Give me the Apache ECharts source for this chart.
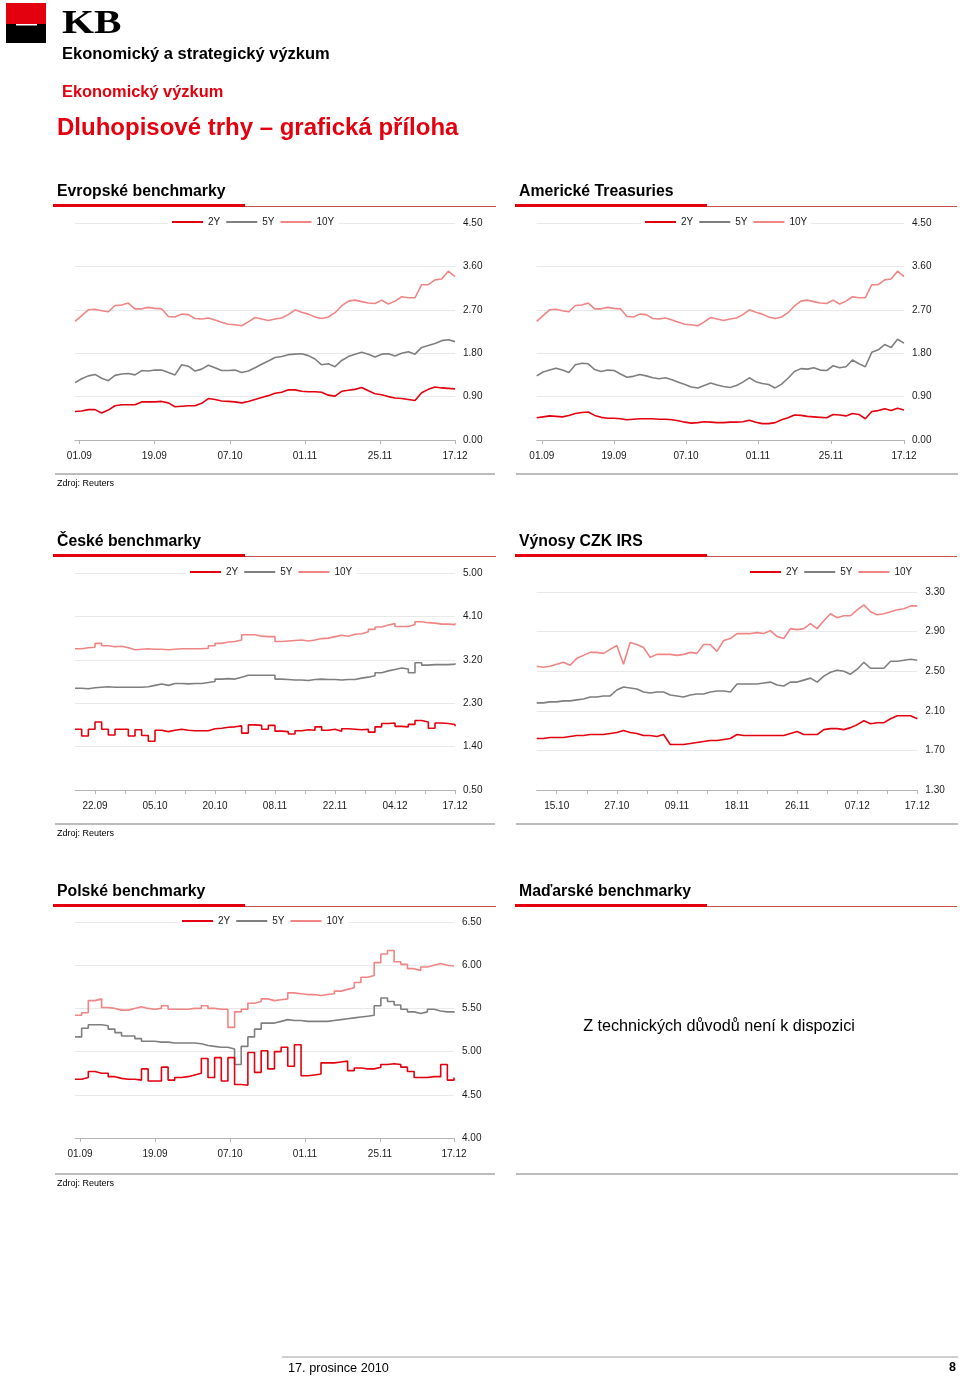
<!DOCTYPE html>
<html><head><meta charset="utf-8">
<script src="https://cdn.jsdelivr.net/npm/echarts@6/dist/echarts.min.js"></script>
<style>html,body{margin:0;padding:0;background:#fff}#c{width:960px;height:1378px}</style>
</head><body><div id="c"></div>
<script>
// ---------- DATA ----------
const seriesNames = ['2Y', '5Y', '10Y'];

// Evropské benchmarky
const eurTickLabels = ['01.09', '19.09', '07.10', '01.11', '25.11', '17.12'];
const eurTickAt = [0.65, 11.9, 23.25, 34.5, 45.75, 57];
const eurYTicks = [0.00, 0.90, 1.80, 2.70, 3.60, 4.50];
const eur2Y = [0.59,0.60,0.63,0.63,0.56,0.62,0.71,0.73,0.73,0.73,0.79,0.79,0.79,0.80,0.77,0.69,0.70,0.71,0.71,0.76,0.86,0.84,0.81,0.80,0.79,0.77,0.80,0.84,0.88,0.92,0.97,0.99,1.04,1.04,1.01,1.00,1.00,0.99,0.93,0.91,1.01,1.03,1.05,1.09,1.02,0.96,0.94,0.90,0.87,0.86,0.84,0.82,0.98,1.05,1.10,1.08,1.07,1.06];
const eur5Y = [1.19,1.27,1.33,1.36,1.28,1.23,1.34,1.37,1.38,1.35,1.44,1.43,1.45,1.45,1.40,1.35,1.56,1.53,1.43,1.47,1.55,1.50,1.44,1.44,1.45,1.40,1.43,1.50,1.57,1.64,1.71,1.73,1.77,1.78,1.79,1.75,1.68,1.56,1.58,1.52,1.65,1.73,1.78,1.82,1.78,1.72,1.78,1.79,1.74,1.80,1.83,1.78,1.92,1.96,2.00,2.06,2.08,2.04];
const eur10Y = [2.46,2.58,2.70,2.71,2.68,2.66,2.79,2.80,2.84,2.72,2.72,2.75,2.73,2.72,2.56,2.55,2.61,2.60,2.52,2.51,2.53,2.49,2.44,2.40,2.39,2.37,2.45,2.54,2.51,2.48,2.51,2.53,2.60,2.70,2.65,2.61,2.55,2.52,2.55,2.64,2.78,2.88,2.90,2.87,2.84,2.83,2.90,2.82,2.88,2.97,2.95,2.95,3.22,3.22,3.32,3.34,3.50,3.39];

// Americké Treasuries
const usTickLabels = ['01.09', '19.09', '07.10', '01.11', '25.11', '17.12'];
const usTickAt = [0.8, 12.0, 23.17, 34.34, 45.67, 57];
const usYTicks = [0.00, 0.90, 1.80, 2.70, 3.60, 4.50];
const us2Y = [0.46,0.48,0.50,0.49,0.48,0.51,0.55,0.57,0.58,0.51,0.47,0.45,0.45,0.44,0.42,0.43,0.44,0.44,0.44,0.43,0.43,0.42,0.40,0.37,0.35,0.36,0.38,0.37,0.36,0.36,0.37,0.37,0.38,0.41,0.37,0.34,0.34,0.36,0.42,0.46,0.52,0.51,0.49,0.48,0.47,0.46,0.53,0.52,0.50,0.55,0.53,0.44,0.59,0.61,0.65,0.61,0.66,0.62];
const us5Y = [1.33,1.41,1.45,1.49,1.45,1.40,1.56,1.59,1.58,1.46,1.42,1.45,1.44,1.37,1.30,1.32,1.36,1.33,1.29,1.27,1.29,1.25,1.20,1.15,1.10,1.08,1.13,1.18,1.14,1.11,1.09,1.13,1.20,1.29,1.21,1.17,1.15,1.08,1.16,1.28,1.42,1.48,1.47,1.50,1.45,1.44,1.54,1.50,1.52,1.66,1.58,1.52,1.82,1.87,1.98,1.92,2.09,2.01];
const us10Y = [2.46,2.58,2.70,2.71,2.68,2.66,2.79,2.80,2.84,2.72,2.72,2.75,2.73,2.72,2.56,2.55,2.61,2.60,2.52,2.51,2.53,2.49,2.44,2.40,2.39,2.37,2.45,2.54,2.51,2.48,2.51,2.53,2.60,2.70,2.65,2.61,2.55,2.52,2.55,2.64,2.78,2.88,2.90,2.87,2.84,2.83,2.90,2.82,2.88,2.97,2.95,2.95,3.22,3.22,3.32,3.34,3.50,3.39];

// České benchmarky
const czTickLabels = ['22.09', '05.10', '20.10', '08.11', '22.11', '04.12', '17.12'];
const czLabelAt = [3, 12, 21, 30, 39, 48, 57];
const czTickAt = [3, 7.5, 12, 16.5, 21, 25.5, 30, 34.5, 39, 43.5, 48, 52.5, 57];
const czYTicks = [0.50, 1.40, 2.30, 3.20, 4.10, 5.00];
const cz2Y = [1.76,1.62,1.76,1.91,1.76,1.64,1.76,1.76,1.62,1.75,1.63,1.51,1.74,1.71,1.74,1.76,1.74,1.73,1.73,1.73,1.77,1.78,1.80,1.81,1.83,1.68,1.85,1.84,1.76,1.84,1.72,1.71,1.66,1.73,1.75,1.74,1.81,1.74,1.76,1.72,1.77,1.76,1.75,1.76,1.70,1.81,1.88,1.89,1.82,1.81,1.86,1.94,1.91,1.78,1.89,1.88,1.86,1.82];
const cz5Y = [2.61,2.60,2.62,2.63,2.64,2.63,2.63,2.63,2.63,2.63,2.64,2.67,2.70,2.67,2.71,2.71,2.70,2.71,2.71,2.73,2.75,2.80,2.81,2.80,2.84,2.88,2.88,2.88,2.88,2.88,2.80,2.79,2.78,2.78,2.77,2.79,2.80,2.79,2.79,2.78,2.79,2.79,2.82,2.84,2.87,2.93,2.97,3.00,3.03,3.01,2.93,3.14,3.09,3.10,3.10,3.10,3.11,3.13];
const cz10Y = [3.43,3.45,3.46,3.54,3.49,3.47,3.48,3.45,3.41,3.42,3.43,3.42,3.42,3.41,3.42,3.43,3.43,3.43,3.43,3.44,3.49,3.54,3.57,3.58,3.61,3.72,3.72,3.69,3.68,3.68,3.58,3.59,3.60,3.61,3.59,3.61,3.64,3.65,3.68,3.71,3.69,3.73,3.74,3.78,3.83,3.88,3.92,3.95,3.89,3.89,3.93,3.99,3.97,3.96,3.94,3.94,3.93,3.96];

// Výnosy CZK IRS
const irsTickLabels = ['15.10', '27.10', '09.11', '18.11', '26.11', '07.12', '17.12'];
const irsLabelAt = [3, 12, 21, 30, 39, 48, 57];
const irsTickAt = [3, 7.5, 12, 16.5, 21, 25.5, 30, 34.5, 39, 43.5, 48, 52.5, 57];
const irsYTicks = [1.30, 1.70, 2.10, 2.50, 2.90, 3.30];
const irs2Y = [1.82,1.82,1.83,1.83,1.83,1.84,1.85,1.85,1.86,1.86,1.86,1.87,1.88,1.90,1.88,1.87,1.85,1.85,1.84,1.86,1.76,1.76,1.76,1.77,1.78,1.79,1.80,1.80,1.81,1.82,1.86,1.85,1.85,1.85,1.85,1.85,1.85,1.85,1.87,1.89,1.86,1.86,1.86,1.91,1.92,1.92,1.91,1.93,1.96,2.00,1.97,1.98,1.98,2.02,2.05,2.05,2.05,2.02];
const irs5Y = [2.18,2.18,2.19,2.19,2.20,2.20,2.21,2.22,2.24,2.24,2.25,2.25,2.31,2.34,2.33,2.32,2.29,2.28,2.29,2.29,2.26,2.25,2.24,2.26,2.27,2.27,2.29,2.30,2.30,2.29,2.37,2.37,2.37,2.37,2.38,2.39,2.36,2.35,2.39,2.39,2.41,2.43,2.39,2.45,2.49,2.51,2.50,2.47,2.52,2.59,2.53,2.53,2.53,2.60,2.60,2.61,2.62,2.61];
const irs10Y = [2.55,2.54,2.55,2.57,2.59,2.56,2.63,2.66,2.69,2.69,2.68,2.72,2.76,2.57,2.79,2.77,2.74,2.64,2.67,2.67,2.67,2.66,2.67,2.69,2.68,2.77,2.77,2.70,2.81,2.83,2.88,2.88,2.88,2.89,2.88,2.91,2.85,2.83,2.93,2.92,2.93,2.98,2.93,3.01,3.08,3.04,3.06,3.06,3.12,3.17,3.10,3.07,3.08,3.10,3.12,3.13,3.16,3.16];

// Polské benchmarky
const plTickLabels = ['01.09', '19.09', '07.10', '01.11', '25.11', '17.12'];
const plTickAt = [0.75, 12.03, 23.31, 34.59, 45.87, 57];
const plYTicks = [4.00, 4.50, 5.00, 5.50, 6.00, 6.50];
const pl2Y = [4.68,4.70,4.77,4.75,4.75,4.71,4.69,4.68,4.68,4.67,4.80,4.66,4.66,4.82,4.67,4.70,4.71,4.73,4.75,4.92,4.70,4.93,4.66,4.93,4.62,4.61,4.99,4.76,5.01,4.80,5.00,5.05,4.83,5.08,4.72,4.73,4.74,4.87,4.87,4.88,4.89,4.78,4.81,4.80,4.80,4.82,4.85,4.86,4.85,4.82,4.77,4.70,4.70,4.71,4.71,4.85,4.67,4.70];
const pl5Y = [5.17,5.27,5.31,5.31,5.30,5.26,5.22,5.18,5.18,5.15,5.12,5.12,5.11,5.11,5.10,5.10,5.10,5.10,5.09,5.07,5.06,5.05,5.05,5.03,4.85,5.06,5.17,5.26,5.33,5.33,5.35,5.37,5.36,5.36,5.35,5.35,5.35,5.35,5.36,5.37,5.38,5.39,5.40,5.41,5.42,5.53,5.62,5.58,5.54,5.49,5.46,5.44,5.46,5.49,5.47,5.46,5.46,5.45];
const pl10Y = [5.42,5.45,5.59,5.61,5.51,5.50,5.48,5.48,5.50,5.52,5.50,5.49,5.50,5.53,5.49,5.49,5.49,5.50,5.50,5.53,5.50,5.49,5.49,5.28,5.46,5.49,5.56,5.58,5.61,5.59,5.60,5.61,5.68,5.67,5.66,5.66,5.65,5.66,5.67,5.70,5.72,5.74,5.80,5.86,5.88,6.03,6.13,6.17,6.04,6.01,5.96,5.94,5.98,6.00,6.02,6.00,5.99,5.99];

// ---------- LAYOUT / STYLE ----------
const FONT = "'Liberation Sans', Arial, Helvetica, sans-serif";
const RED = '#e3000f', GRAY = '#7f7f7f', PINK = '#f08585';
const colors = [RED, GRAY, PINK];

const panels = [
  { grid: {left: 75, top: 223, width: 380, height: 217}, yTicks: eurYTicks, labels: eurTickLabels, labelAt: eurTickAt, tickAt: eurTickAt, data: [eur2Y, eur5Y, eur10Y], legend: {left: 168, top: 215}, step: false },
  { grid: {left: 536.7, top: 223, width: 367.3, height: 217}, yTicks: usYTicks, labels: usTickLabels, labelAt: usTickAt, tickAt: usTickAt, data: [us2Y, us5Y, us10Y], legend: {left: 641, top: 215}, step: false },
  { grid: {left: 75, top: 573, width: 380, height: 217}, yTicks: czYTicks, labels: czTickLabels, labelAt: czLabelAt, tickAt: czTickAt, data: [cz2Y, cz5Y, cz10Y], legend: {left: 186, top: 565}, step: 'end' },
  { grid: {left: 536.7, top: 592, width: 380.6, height: 198}, yTicks: irsYTicks, labels: irsTickLabels, labelAt: irsLabelAt, tickAt: irsTickAt, data: [irs2Y, irs5Y, irs10Y], legend: {left: 746, top: 565}, step: false },
  { grid: {left: 75, top: 922, width: 379, height: 216}, yTicks: plYTicks, labels: plTickLabels, labelAt: plTickAt, tickAt: plTickAt, data: [pl2Y, pl5Y, pl10Y], legend: {left: 178, top: 914}, step: 'end' }
];

const grid = [], xAxis = [], yAxis = [], series = [], legend = [];
panels.forEach((p, ci) => {
  grid.push(Object.assign({containLabel: false}, p.grid));
  const n = p.data[0].length;
  xAxis.push({
    gridIndex: ci, type: 'value', min: 0, max: n - 1,
    axisLine: {show: true, onZero: false, lineStyle: {color: '#b5b5b5', width: 1}},
    axisTick: {show: true, customValues: p.tickAt, length: 4, lineStyle: {color: '#b5b5b5'}},
    axisLabel: {
      customValues: p.labelAt, margin: 11, fontSize: 10, color: '#1a1a1a', fontFamily: FONT,
      formatter: v => { const k = p.labelAt.findIndex(a => Math.abs(a - v) < 1e-6); return k >= 0 ? p.labels[k] : ''; }
    },
    splitLine: {show: false}
  });
  const ymin = p.yTicks[0], ymax = p.yTicks[p.yTicks.length - 1];
  yAxis.push({
    gridIndex: ci, type: 'value', position: 'right', min: ymin, max: ymax,
    axisLine: {show: false},
    axisTick: {show: false, customValues: p.yTicks},
    axisLabel: {customValues: p.yTicks, margin: 8, fontSize: 10, color: '#1a1a1a', fontFamily: FONT, formatter: v => Number(v).toFixed(2)},
    splitLine: {show: true, lineStyle: {color: '#e9e9e9', width: 1}}
  });
  p.data.forEach((arr, si) => {
    series.push({
      type: 'line', name: seriesNames[si], xAxisIndex: ci, yAxisIndex: ci,
      data: arr.map((v, i) => [i, v]), showSymbol: false, symbol: 'none', step: p.step,
      color: colors[si], lineStyle: {width: 1.6, color: colors[si]},
      silent: true, animation: false, z: 3 - si
    });
  });
  legend.push({
    data: seriesNames, left: p.legend.left, top: p.legend.top, icon: 'rect',
    itemWidth: 31, itemHeight: 2, itemGap: 6, padding: [2, 4], backgroundColor: '#fff',
    selectedMode: false, textStyle: {fontSize: 10, color: '#1a1a1a', fontFamily: FONT}
  });
});

// ---------- PAGE GRAPHICS ----------
const g = [];
function text(t, x, y, size, weight, fill, align) {
  g.push({type: 'text', x: x, y: y, silent: true, style: {text: t, fontSize: size, fontWeight: weight || 'normal', fontFamily: FONT, fill: fill || '#000', align: align || 'left', verticalAlign: 'middle'}});
}
function rect(x, y, w, h, fill) { g.push({type: 'rect', silent: true, shape: {x: x, y: y, width: w, height: h}, style: {fill: fill}}); }
function line(x1, y1, x2, y2, stroke, w) { g.push({type: 'line', silent: true, shape: {x1: x1, y1: y1, x2: x2, y2: y2}, style: {stroke: stroke, lineWidth: w}}); }

// logo
rect(6, 3, 40, 21, RED);
rect(6, 24, 40, 19, '#000');
rect(16, 24, 21, 1.5, '#fff');
g.push({type: 'text', x: 62, y: 24, scaleX: 1.25, silent: true, style: {text: 'KB', fontSize: 33, fontWeight: 'bold', fontFamily: "'Liberation Serif', 'Times New Roman', serif", fill: '#000', verticalAlign: 'middle'}});

text('Ekonomický a strategický výzkum', 62, 54, 16.5, 'bold', '#000');
text('Ekonomický výzkum', 62, 92, 16.4, 'bold', RED);
text('Dluhopisové trhy – grafická příloha', 57, 128, 24, 'bold', RED);

const headers = [
  ['Evropské benchmarky', 'Americké Treasuries', 192, 205.5],
  ['České benchmarky', 'Výnosy CZK IRS', 542, 555.5],
  ['Polské benchmarky', 'Maďarské benchmarky', 892, 905.5]
];
headers.forEach(h => {
  text(h[0], 57, h[2], 15.8, 'bold', '#000');
  text(h[1], 519, h[2], 15.8, 'bold', '#000');
  line(245, h[3] + 1, 496, h[3] + 1, '#c85050', 1.2);
  line(707, h[3] + 1, 957, h[3] + 1, '#c85050', 1.2);
  rect(53, h[3] - 1.5, 192, 3, RED);
  rect(515, h[3] - 1.5, 192, 3, RED);
});

[474, 824, 1174].forEach(y => {
  line(55, y, 495, y, '#a6a6a6', 1.5);
  line(516, y, 958, y, '#a6a6a6', 1.5);
  text('Zdroj: Reuters', 57, y + 10, 9, 'normal', '#000');
});

text('Z technických důvodů není k dispozici', 719, 1027, 16.2, 'normal', '#000', 'center');

line(282, 1357, 958, 1357, '#a0a0a0', 1);
text('17. prosince 2010', 288, 1368, 12.7, 'normal', '#000');
text('8', 956, 1368, 12.5, 'bold', '#000', 'right');

const chart = echarts.init(document.getElementById('c'), null, {renderer: 'canvas'});
chart.setOption({
  animation: false,
  backgroundColor: '#fff',
  textStyle: {fontFamily: FONT},
  grid: grid, xAxis: xAxis, yAxis: yAxis, series: series, legend: legend,
  graphic: {elements: g}
});
</script></body></html>
